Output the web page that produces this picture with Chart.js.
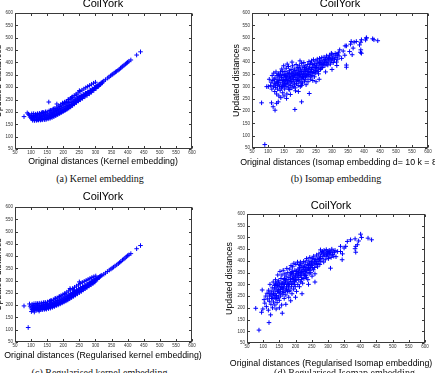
<!DOCTYPE html>
<html>
<head>
<meta charset="utf-8">
<script src="https://cdn.jsdelivr.net/npm/chart.js@4.4.0/dist/chart.umd.min.js"></script>
<style>
html,body{margin:0;padding:0;width:435px;height:373px;overflow:hidden;background:#fff;position:relative}
canvas{position:absolute}
.cap{position:absolute;font-family:"Liberation Serif","Times New Roman",serif;font-size:10px;line-height:10px;white-space:nowrap;color:#111;transform:translateX(-50%)}
</style>
</head>
<body>
<canvas id="ca"></canvas>
<canvas id="cb"></canvas>
<canvas id="cc"></canvas>
<canvas id="cd"></canvas>
<div class="cap" style="left:100px;top:174px">(a) Kernel embedding</div>
<div class="cap" style="left:336px;top:174px">(b) Isomap embedding</div>
<div class="cap" style="left:99.5px;top:367.7px">(c) Regularised kernel embedding</div>
<div class="cap" style="left:344.5px;top:367.7px">(d) Regularised Isomap embedding</div>
<script>
// ---------- data ----------
const axisTicks = [50,100,150,200,250,300,350,400,450,500,550,600];
const chartTitle = 'CoilYork';
const yAxisTitle = 'Updated distances';
const xTitleA = 'Original distances (Kernel embedding)';
const xTitleB = 'Original distances (Isomap embedding d= 10 k = 8)';
const xTitleC = 'Original distances (Regularised kernel embedding)';
const xTitleD = 'Original distances (Regularised Isomap embedding)';

const kernelPts = [
[78,181],[88,196],[92,191],[95,186],[97,179],[100,183],[101,174],[103,178],[104,170],[106,186],[107,175],[109,181],[110,168],[112,177],[113,185],[115,171],[116,180],[118,188],[119,168],[121,175],[122,183],[124,170],[125,191],[126,178],[128,172],[129,184],[131,169],[132,179],[134,187],[135,173],[137,181],[138,193],[140,175],[141,184],[143,170],[144,189],[146,177],[147,184],[149,174],[150,192],[152,180],[153,187],[155,176],[155,240],[157,184],[158,195],[160,179],[161,189],[163,182],[164,198],[166,186],[167,193],[169,183],[170,201],[172,189],[173,196],[175,186],[176,206],[178,192],[179,200],[181,189],[182,210],[184,196],[185,203],[187,193],[188,214],[190,199],[191,207],[193,197],[194,219],[196,204],[197,211],[199,201],[200,224],[202,209],[203,216],[205,205],[206,229],[208,214],[209,221],[211,210],[212,233],[214,219],[215,226],[217,215],[218,238],[220,224],[221,231],[223,220],[224,243],[226,230],[227,237],[229,226],[230,248],[232,236],[233,243],[235,232],[236,252],[238,241],[239,248],[241,238],[243,257],[244,246],[245,253],[247,244],[249,262],[250,251],[251,258],[253,249],[255,266],[256,257],[258,264],[260,255],[262,271],[263,262],[265,269],[267,261],[269,276],[270,268],[272,274],[274,267],[276,281],[277,274],[279,280],[281,273],[283,287],[284,280],[286,286],[288,280],[290,293],[291,287],[293,292],[295,287],[297,299],[298,294],[300,299],[302,295],[304,305],[305,301],[307,306],[309,303],[311,311],[312,308],[314,313],[316,311],[318,318],[320,316],[322,321],[326,325],[331,330],[338,337],[342,341],[347,346],[351,350],[354,353],[358,357],[362,361],[365,364],[370,368],[374,372],[378,377],[382,381],[385,385],[389,389],[393,393],[397,397],[400,401],[404,405],[410,410],[428,430],[440,443],
[180,232],[198,236],[215,250],[226,258],[250,286],[240,268],[205,240],[190,222],[170,212],[145,200],[135,198],[160,206],
[102,192],[108,193],[114,191],[120,193],[126,194],[132,196],[138,198],[144,199],[150,200],[156,204],[162,207],[168,211],[174,214],[180,219],[186,224],[192,229],[198,234],[204,238],[210,243],[216,249],[222,255],[228,261],[234,266],[240,272],[246,277],[252,283],[258,288],[264,293],[270,298],[276,303],[282,307],[288,312],[294,316],[300,320],
[105,166],[111,165],[117,166],[123,167],[129,167],[135,168],[141,169],[147,170],[153,172],[159,174],[165,177],[171,181],[177,185],[183,190],[189,194],[195,199],[201,204],[207,209],[213,214],[219,220],[225,226],[231,232],[237,238],[243,244],[249,250],[255,256],[261,262],[267,268],[273,274],[279,279],[285,285],[291,290],[297,295]
];

const isomapPts = [
[80,234],[90,64],[96,300],[101,300],[104,330],[108,305],[110,318],[111,234],[112,290],[113,345],[115,325],[116,218],[117,300],[118,355],[120,312],[121,280],[122,204],[122,335],[124,296],[125,360],[126,320],[127,232],[127,270],[128,345],[129,305],[130,290],[131,330],[132,238],[132,352],[133,315],[134,262],[135,340],[136,300],[137,325],[138,285],[139,360],[140,310],[140,255],[141,345],[142,295],[143,372],[144,330],[145,318],[146,275],[147,350],[148,305],[149,385],[150,338],[150,262],[151,322],[152,290],[153,362],[154,312],[155,345],[156,300],[157,375],[158,330],[158,252],[159,270],[160,355],[160,392],[161,318],[162,340],[163,298],[164,382],[165,326],[166,310],[167,365],[168,288],[169,348],[170,332],[170,268],[171,305],[172,370],[173,320],[174,352],[175,295],[175,400],[176,340],[177,385],[178,315],[179,360],[180,330],[181,300],[182,372],[183,345],[184,207],[184,322],[185,355],[186,283],[187,338],[188,390],[189,312],[190,365],[191,348],[192,328],[193,378],[194,305],[195,280],[195,355],[196,340],[197,320],[198,385],[199,360],[200,335],[200,405],[201,300],[202,372],[203,350],[204,328],[205,238],[205,395],[206,362],[207,342],[208,315],[209,380],[210,355],[211,335],[212,398],[213,368],[214,322],[215,350],[216,385],[217,340],[218,362],[219,308],[220,375],[222,355],[224,390],[225,340],[226,368],[228,402],[229,272],[229,350],[230,380],[232,330],[233,395],[234,362],[236,405],[237,345],[238,378],[240,325],[240,390],[241,360],[242,410],[244,372],[245,340],[246,395],[248,380],[249,355],[250,320],[250,405],[252,388],[253,365],[254,412],[256,395],[257,375],[258,352],[260,330],[260,400],[261,415],[262,385],[264,370],[265,405],[266,390],[268,418],[269,395],[270,378],[272,405],[274,392],[275,420],[277,400],[278,385],[280,360],[280,412],[282,398],[283,425],[285,405],[287,388],[288,418],[290,400],[292,428],[294,410],[295,392],[297,420],[298,436],[299,405],[300,370],[300,432],[302,415],[304,398],[306,425],[308,410],[310,435],[312,418],[314,400],[315,386],[316,428],[316,433],[318,412],[320,438],[322,425],[324,450],[330,415],[335,445],[340,428],[341,466],[345,388],[345,379],[345,466],[355,443],[358,473],[360,484],[363,430],[366,457],[369,481],[376,484],[386,470],[389,440],[390,450],[390,481],[392,491],[392,436],[405,490],[407,498],[408,499],[427,495],[431,491],[443,487],
[142,338],[146,362],[151,348],[155,328],[159,312],[163,352],[167,338],[171,322],[176,355],[180,345],[184,365],[188,330],[192,352],[196,372],[200,350],[204,362],[208,338],[212,352],[216,368],[220,345],[224,362],[228,375],[232,358],[236,370],[240,355],[244,385],[248,365],[252,378],[256,362],[262,398],[266,375],[272,390],[278,410],[284,392],[290,415],[148,325],[152,310],[157,342],[162,325],[166,355],[172,340],[178,330],[183,310],[187,350],[194,325],[198,345],[203,315],[210,340],[214,378],[218,330],[226,350],[234,340],[244,358],[130,318],[134,350],[119,330],[124,310],[145,300],[165,290],[185,295],[205,305],[225,320]
];

const regKernelPts = [
[78,197],[91,109],[95,205],[97,196],[100,189],[101,174],[103,182],[104,193],[106,186],[107,199],[109,183],[110,191],[112,196],[113,185],[115,190],[116,201],[118,184],[119,193],[121,188],[122,198],[124,183],[125,192],[127,200],[128,186],[130,194],[131,189],[133,199],[134,184],[136,192],[137,202],[139,188],[140,196],[142,190],[143,203],[145,187],[146,195],[148,199],[149,190],[151,206],[152,193],[154,198],[155,191],[157,208],[158,196],[160,201],[161,193],[163,210],[164,199],[166,204],[167,196],[169,213],[170,201],[172,207],[173,199],[175,216],[176,204],[178,210],[179,202],[181,219],[182,207],[184,213],[185,205],[187,222],[188,211],[190,217],[191,208],[193,226],[194,214],[196,221],[197,212],[199,230],[200,218],[202,225],[203,216],[205,234],[206,222],[208,229],[209,220],[211,238],[212,227],[214,234],[215,225],[217,242],[218,232],[220,239],[221,230],[223,247],[224,237],[226,244],[227,235],[229,251],[230,242],[232,249],[233,240],[235,256],[236,247],[238,254],[239,245],[241,261],[242,252],[244,259],[245,251],[247,266],[248,258],[250,264],[251,256],[253,271],[255,263],[256,269],[258,262],[260,276],[261,268],[263,274],[265,268],[267,281],[268,274],[270,279],[272,273],[274,286],[275,280],[277,285],[279,279],[281,291],[282,286],[284,291],[286,285],[288,297],[289,292],[291,297],[293,292],[295,303],[296,298],[298,303],[300,299],[302,308],[303,305],[305,309],[307,306],[309,313],[311,312],[313,316],[315,317],[317,320],[320,322],[326,326],[331,331],[337,337],[343,343],[348,347],[352,351],[356,355],[361,360],[366,364],[371,369],[375,374],[379,378],[384,384],[388,388],[392,392],[396,397],[400,402],[404,405],[410,410],[428,430],[440,443],
[250,295],[221,268],[188,235],[175,228],[205,245],[160,218],[140,210],[120,205],[232,262],[125,176],[110,172],
[103,204],[109,206],[115,207],[121,207],[127,208],[133,209],[139,210],[145,211],[151,213],[157,216],[163,219],[169,222],[175,226],[181,230],[187,234],[193,239],[199,243],[205,248],[211,253],[217,258],[223,263],[229,268],[235,273],[241,278],[247,283],[253,288],[259,293],[265,297],[271,301],[277,305],[283,309],[289,313],[295,316],[301,319],
[106,180],[112,181],[118,180],[124,181],[130,182],[136,182],[142,183],[148,184],[154,186],[160,188],[166,191],[172,194],[178,198],[184,201],[190,205],[196,209],[202,213],[208,217],[214,221],[220,226],[226,231],[232,236],[238,241],[244,246],[250,251],[256,256],[262,262],[268,267],[274,273],[280,278],[286,283],[292,288],[298,294]
];

const regIsomapPts = [
[77,198],[87,105],[95,181],[97,276],[99,195],[103,235],[105,220],[108,250],[110,205],[112,262],[114,238],[116,190],[117,275],[118,137],[119,228],[120,250],[121,300],[123,170],[124,215],[125,268],[126,240],[128,285],[129,200],[130,255],[131,310],[132,225],[133,272],[134,245],[135,295],[136,212],[137,260],[138,320],[139,238],[140,280],[140,195],[141,252],[142,305],[143,222],[144,270],[145,340],[146,290],[147,245],[148,315],[149,265],[150,232],[150,200],[151,300],[152,355],[153,278],[154,250],[155,325],[156,290],[157,212],[158,340],[159,177],[159,270],[160,305],[161,258],[162,360],[163,285],[164,320],[165,240],[166,300],[167,345],[168,275],[169,315],[170,255],[170,215],[171,335],[172,290],[173,368],[174,305],[175,270],[176,350],[177,320],[178,285],[179,245],[180,330],[181,300],[182,365],[183,275],[184,340],[185,312],[185,230],[186,380],[187,290],[188,350],[189,260],[190,325],[191,375],[192,305],[193,345],[194,280],[195,390],[196,330],[197,310],[198,360],[199,290],[200,340],[200,245],[201,385],[202,318],[203,270],[204,355],[205,335],[206,395],[207,300],[208,365],[209,345],[210,320],[211,385],[212,290],[213,360],[214,338],[215,395],[216,310],[217,372],[218,350],[219,330],[220,388],[220,260],[222,305],[223,362],[224,345],[225,398],[226,325],[228,378],[229,355],[230,395],[231,338],[232,372],[234,410],[235,350],[236,385],[238,320],[239,400],[240,365],[240,300],[242,345],[243,390],[244,415],[246,372],[247,350],[248,398],[250,380],[251,335],[252,410],[254,388],[255,362],[256,420],[258,395],[259,372],[260,345],[260,310],[262,405],[263,385],[265,425],[266,398],[268,375],[269,412],[270,390],[272,430],[274,408],[275,385],[277,420],[277,447],[278,398],[280,435],[282,410],[283,440],[285,420],[287,395],[288,445],[290,425],[292,405],[294,435],[295,448],[297,418],[299,430],[300,440],[302,410],[303,433],[304,445],[306,425],[308,369],[309,438],[310,415],[312,450],[314,428],[316,442],[318,420],[320,435],[322,445],[325,418],[330,440],[339,462],[339,440],[344,405],[345,430],[350,455],[355,462],[360,483],[370,490],[384,494],[384,452],[386,462],[386,437],[391,469],[395,485],[401,514],[404,500],[424,497],[435,490],
[132,260],[136,285],[140,250],[144,295],[148,275],[152,260],[156,305],[160,285],[164,265],[168,310],[172,280],[176,300],[180,270],[184,320],[188,300],[192,335],[196,300],[200,320],[204,345],[208,330],[212,370],[216,340],[220,355],[224,375],[228,340],[232,360],[236,365],[240,380],[244,360],[248,385],[252,370],[258,405],[264,390],[270,405],[276,410],[286,430],[296,425],[306,435],[142,240],[146,310],[154,285],[162,300],[170,320],[178,300],[186,345],[194,320],[202,355],[210,350],[218,320],[226,365],[234,330],[242,370],[250,395],[128,240],[124,255],[118,262],[138,300],[166,325],[190,355],[214,380]
];

// ---------- layout / style ----------
const SANS = '"Liberation Sans", Arial, sans-serif';
const TITLE_SIZE = 11, AXIS_TITLE_SIZE = 8.8, TICK_SIZE = 4.5, X_AXIS_H = 7;
const MARK = 'rgb(0,0,255)';

const panels = [
  {id:'ca', pts:kernelPts, xTitle:xTitleA, canvas:{l:-12,t:-3,w:230,h:173}, area:{l:15,t:13,r:192,b:149}, titleCY:3.8, xTitleCY:162, yTitleCX:-1},
  {id:'cb', pts:isomapPts, xTitle:xTitleB, canvas:{l:222,t:-3,w:236,h:173}, area:{l:252,t:13,r:428,b:148}, titleCY:3.8, xTitleCY:162.7, yTitleCX:237},
  {id:'cc', pts:regKernelPts, xTitle:xTitleC, canvas:{l:-12,t:190,w:230,h:172}, area:{l:15,t:207,r:192,b:342}, titleCY:196.7, xTitleCY:355.5, yTitleCX:-1},
  {id:'cd', pts:regIsomapPts, xTitle:xTitleD, canvas:{l:218,t:198,w:226,h:175}, area:{l:247,t:214,r:425,b:343}, titleCY:205.5, xTitleCY:363.5, yTitleCX:229.7}
];

const boxTicks = {
  id: 'boxTicks',
  beforeDatasetsDraw(chart) {
    const {ctx, chartArea: a, scales} = chart;
    const xs = scales.x, ys = scales.y;
    const L = Math.round(a.left) + 0.5, R = Math.round(a.right) - 0.5;
    const T = Math.round(a.top) + 0.5, B = Math.round(a.bottom) - 0.5;
    ctx.save();
    ctx.strokeStyle = '#3a3a3a';
    ctx.lineWidth = 1;
    ctx.strokeRect(L, T, R - L, B - T);
    ctx.beginPath();
    xs.ticks.forEach(t => {
      const p = Math.round(xs.getPixelForValue(t.value)) + 0.5;
      ctx.moveTo(p, B); ctx.lineTo(p, B - 2.5);
      ctx.moveTo(p, T); ctx.lineTo(p, T + 2.5);
    });
    ys.ticks.forEach(t => {
      const p = Math.round(ys.getPixelForValue(t.value)) + 0.5;
      ctx.moveTo(L, p); ctx.lineTo(L + 2.5, p);
      ctx.moveTo(R, p); ctx.lineTo(R - 2.5, p);
    });
    ctx.stroke();
    ctx.restore();
  }
};

function setTicks(scale) { scale.ticks = axisTicks.map(v => ({value: v})); }

function makeChart(p) {
  const cv = document.getElementById(p.id);
  const c = p.canvas, a = p.area;
  cv.width = c.w; cv.height = c.h;
  cv.style.left = c.l + 'px'; cv.style.top = c.t + 'px';
  cv.style.width = c.w + 'px'; cv.style.height = c.h + 'px';
  const tHalf = TITLE_SIZE * 0.6, sHalf = AXIS_TITLE_SIZE * 0.6;
  const tPadTop = p.titleCY - c.t - tHalf;
  const tPadBot = a.t - p.titleCY - tHalf;
  const sPadTop = p.xTitleCY - sHalf - (a.b + X_AXIS_H);
  const layoutBottom = (c.t + c.h) - (a.b + X_AXIS_H + 2 * sHalf + sPadTop);
  const yW = a.l - c.l;
  const rW = c.l + c.w - a.r;
  const yTitlePad = p.yTitleCX - c.l - sHalf;
  const tickFont = {family: SANS, size: TICK_SIZE};
  new Chart(cv, {
    type: 'scatter',
    data: {datasets: [{
      data: p.pts.map(([x, y]) => ({x, y})),
      xAxisID: 'x', yAxisID: 'y',
      pointStyle: 'cross', radius: 2.3, borderWidth: 1,
      borderColor: MARK, backgroundColor: MARK
    }]},
    options: {
      responsive: false, animation: false, events: [],
      layout: {padding: {left: 0, right: 0, top: 0, bottom: layoutBottom}},
      plugins: {
        legend: {display: false}, tooltip: {enabled: false},
        title: {display: true, text: chartTitle, color: '#000',
          font: {family: SANS, size: TITLE_SIZE, weight: 'normal', lineHeight: 1.2},
          padding: {top: tPadTop, bottom: tPadBot}},
        subtitle: {display: true, position: 'bottom', text: p.xTitle, color: '#000',
          font: {family: SANS, size: AXIS_TITLE_SIZE, weight: 'normal', lineHeight: 1.2},
          padding: {top: sPadTop, bottom: 0}}
      },
      scales: {
        x: {type: 'linear', position: 'bottom', min: 50, max: 600,
          afterBuildTicks: setTicks,
          ticks: {font: tickFont, color: '#333', padding: 1, maxRotation: 0, autoSkip: false},
          grid: {display: false, drawTicks: false}, border: {display: false},
          afterFit: s => { s.height = X_AXIS_H; }},
        y: {type: 'linear', position: 'left', min: 50, max: 600,
          afterBuildTicks: setTicks,
          ticks: {font: tickFont, color: '#333', padding: 2, autoSkip: false},
          grid: {display: false, drawTicks: false}, border: {display: false},
          title: {display: true, text: yAxisTitle, color: '#000',
            font: {family: SANS, size: AXIS_TITLE_SIZE, weight: 'normal', lineHeight: 1.2},
            padding: {top: yTitlePad, bottom: 0}},
          afterFit: s => { s.width = yW; }},
        yr: {type: 'linear', position: 'right', min: 0, max: 1, display: true,
          ticks: {display: false}, grid: {display: false, drawTicks: false}, border: {display: false},
          afterFit: s => { s.width = rW; }}
      }
    },
    plugins: [boxTicks]
  });
}

panels.forEach(makeChart);
</script>
</body>
</html>
